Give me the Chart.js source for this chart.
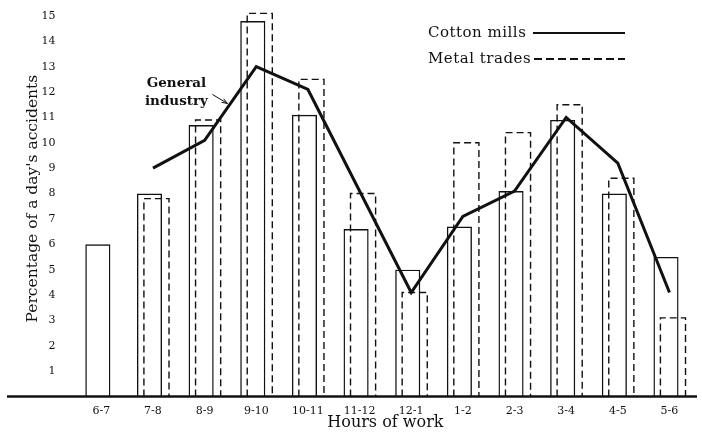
<!DOCTYPE html>
<html>
<head>
<meta charset="utf-8">
<script src="https://cdn.jsdelivr.net/npm/chart.js@4"></script>
<style>
  html, body { margin: 0; padding: 0; background: #ffffff; }
  #wrap { width: 702px; height: 432px; }
</style>
</head>
<body>
<div id="wrap"><canvas id="chart" width="702" height="432"></canvas></div>
<script>
// Hours of the working day
const hours = ['6-7', '7-8', '8-9', '9-10', '10-11', '11-12', '12-1', '1-2', '2-3', '3-4', '4-5', '5-6'];
// Percentage of a day's accidents in each hour
const cottonMills = [6.0, 8.0, 10.7, 14.8, 11.1, 6.6, 5.0, 6.7, 8.1, 10.9, 8.0, 5.5];
const metalTrades = [null, 7.8, 10.9, 15.1, 12.5, 8.0, 4.1, 10.0, 10.4, 11.5, 8.6, 3.1];
const generalIndustry = [null, 9.0, 10.1, 13.0, 12.1, 8.1, 4.1, 7.1, 8.1, 11.0, 9.2, 4.1];
// Labelled values on the percentage axis
const percentTicks = [1, 2, 3, 4, 5, 6, 7, 8, 9, 10, 11, 12, 13, 14, 15];

const INK = '#111111';
const SERIF = '"DejaVu Serif", "Liberation Serif", serif';

// Metal-trade bars are outlined with dashes, drawn from the bar elements' geometry
const dashedBars = {
  id: 'dashedBars',
  afterDatasetDraw(chart, args) {
    if (chart.data.datasets[args.index].label !== 'Metal trades') return;
    const ctx = chart.ctx;
    ctx.save();
    ctx.strokeStyle = INK;
    ctx.lineWidth = 1.4;
    ctx.setLineDash([7, 4]);
    args.meta.data.forEach((bar, i) => {
      if (metalTrades[i] === null) return;
      const p = bar.getProps(['x', 'y', 'base', 'width'], true);
      const l = p.x - p.width / 2, r = p.x + p.width / 2;
      ctx.beginPath();
      ctx.moveTo(l, p.base);
      ctx.lineTo(l, p.y);
      ctx.lineTo(r, p.y);
      ctx.lineTo(r, p.base);
      ctx.stroke();
    });
    ctx.restore();
  }
};

// Heavy base line, legend key and the "General industry" note
const decorations = {
  id: 'decorations',
  afterDraw(chart) {
    const ctx = chart.ctx;
    const y0 = chart.scales.y.getPixelForValue(0);
    ctx.save();
    ctx.strokeStyle = INK;
    ctx.lineWidth = 2.5;
    ctx.beginPath();
    ctx.moveTo(7, y0);
    ctx.lineTo(697, y0);
    ctx.stroke();

    // legend
    ctx.fillStyle = INK;
    ctx.font = '15px ' + SERIF;
    ctx.letterSpacing = '0.5px';
    ctx.textBaseline = 'middle';
    ctx.textAlign = 'left';
    ctx.fillText('Cotton mills', 428, 33);
    ctx.fillText('Metal trades', 428, 59);
    ctx.letterSpacing = '0px';
    ctx.lineWidth = 2;
    ctx.beginPath();
    ctx.moveTo(533, 33);
    ctx.lineTo(625, 33);
    ctx.stroke();
    ctx.setLineDash([8, 4]);
    ctx.beginPath();
    ctx.moveTo(534, 59);
    ctx.lineTo(625, 59);
    ctx.stroke();
    ctx.setLineDash([]);

    // note pointing at the general-industry curve
    const line = chart.getDatasetMeta(2).data;
    const a = line[2], b = line[3];
    const tipX = a.x + (b.x - a.x) * 0.5 - 3;
    const tipY = a.y + (b.y - a.y) * 0.5;
    ctx.font = 'bold 13.5px ' + SERIF;
    ctx.textAlign = 'center';
    ctx.fillText('General', tipX - 51, tipY - 20);
    ctx.fillText('industry', tipX - 51, tipY - 2);
    ctx.lineWidth = 1;
    const sx = tipX - 15, sy = tipY - 9;
    ctx.beginPath();
    ctx.moveTo(sx, sy);
    ctx.lineTo(tipX, tipY);
    ctx.stroke();
    const ang = Math.atan2(tipY - sy, tipX - sx);
    ctx.beginPath();
    ctx.moveTo(tipX, tipY);
    ctx.lineTo(tipX - 6 * Math.cos(ang - 0.35), tipY - 6 * Math.sin(ang - 0.35));
    ctx.moveTo(tipX, tipY);
    ctx.lineTo(tipX - 6 * Math.cos(ang + 0.35), tipY - 6 * Math.sin(ang + 0.35));
    ctx.stroke();
    ctx.restore();
  }
};

new Chart(document.getElementById('chart'), {
  type: 'bar',
  data: {
    labels: hours,
    datasets: [
      {
        label: 'Cotton mills',
        data: cottonMills,
        backgroundColor: 'rgba(0,0,0,0)',
        borderColor: INK,
        borderWidth: 1.4,
        borderSkipped: 'bottom',
        categoryPercentage: 0.27,
        barPercentage: 3.6,
        order: 1
      },
      {
        label: 'Metal trades',
        data: metalTrades,
        backgroundColor: 'rgba(0,0,0,0)',
        borderWidth: 0,
        categoryPercentage: 0.27,
        barPercentage: 3.6,
        order: 2
      },
      {
        type: 'line',
        label: 'General industry',
        data: generalIndustry,
        borderColor: INK,
        borderWidth: 3,
        pointRadius: 0,
        tension: 0,
        fill: false,
        order: 0
      }
    ]
  },
  options: {
    responsive: false,
    animation: false,
    events: [],
    layout: { padding: { left: 0, right: 6.7, top: 0.7, bottom: 0 } },
    plugins: {
      legend: { display: false },
      tooltip: { enabled: false }
    },
    scales: {
      x: {
        grid: { display: false, drawTicks: false },
        border: { display: false },
        ticks: { color: INK, font: { family: SERIF, size: 11 }, padding: 8, maxRotation: 0 },
        title: {
          display: true,
          text: 'Hours of work',
          color: INK,
          font: { family: SERIF, size: 16 },
          padding: { top: 0, bottom: 0 }
        },
        afterFit(scale) {
          scale.height = 35.5;
          scale.paddingLeft = 0;
          scale.paddingRight = 0;
        }
      },
      y: {
        min: 0,
        max: 15.6,
        grid: { display: false, drawTicks: false },
        border: { display: false },
        ticks: { color: INK, font: { family: SERIF, size: 11 }, padding: 20 },
        afterBuildTicks(scale) {
          scale.ticks = percentTicks.map(v => ({ value: v }));
        },
        title: {
          display: true,
          text: "Percentage of a day's accidents",
          color: INK,
          font: { family: SERIF, size: 15.5 },
          padding: { top: 23.5, bottom: 0 }
        },
        afterFit(scale) {
          scale.width = 75.5;
          scale.paddingTop = 0;
          scale.paddingBottom = 0;
        }
      }
    }
  },
  plugins: [dashedBars, decorations]
});
</script>
</body>
</html>
